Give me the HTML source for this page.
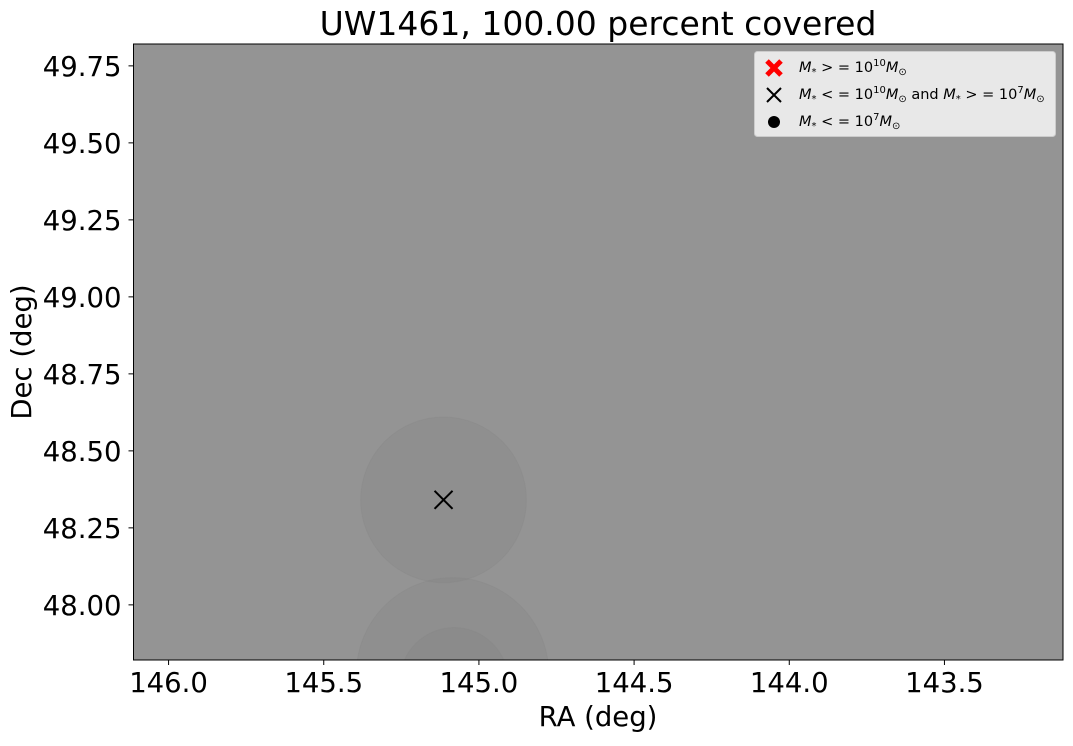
<!DOCTYPE html>
<html><head><meta charset="utf-8"><style>
body{margin:0;background:#fff;width:1073px;height:741px;overflow:hidden}
svg text{font-family:"DejaVu Sans","Liberation Sans",sans-serif}
</style></head><body>
<svg id="chart" width="1073" height="741" xmlns="http://www.w3.org/2000/svg"></svg>
<script>
const xTicks=[146.0,145.5,145.0,144.5,144.0,143.5];
const yTicks=[48.00,48.25,48.50,48.75,49.00,49.25,49.50,49.75];
const circleRA=[145.114,145.085,145.08];
const circleDec=[48.341,47.776,47.75];
const circleR=[0.267,0.31,0.175];
const crossRA=[145.114];
const crossDec=[48.341];
const L=133.5,R=1063,T=44,B=660;
const xMin=146.113,xMax=143.118,yMin=47.821,yMax=49.821;
const X=v=>L+(xMin-v)/(xMin-xMax)*(R-L);
const Y=v=>B-(v-yMin)/(yMax-yMin)*(B-T);
const pxPerDeg=(R-L)/(xMin-xMax);
const svg=document.getElementById('chart');
const NS='http://www.w3.org/2000/svg';
function mk(tag,attrs,parent){const e=document.createElementNS(NS,tag);for(const k in attrs)e.setAttribute(k,attrs[k]);(parent||svg).appendChild(e);return e;}
const defs=mk('defs',{});
const cp=mk('clipPath',{id:'clip'},defs);
mk('rect',{x:L,y:T,width:R-L,height:B-T},cp);
const bg=mk('rect',{x:L,y:T,width:R-L,height:B-T,fill:'#949494'});


const g=mk('g',{'clip-path':'url(#clip)'});
circleRA.forEach((ra,i)=>{
  const c=mk('circle',{cx:X(ra),cy:Y(circleDec[i]),r:circleR[i]*pxPerDeg,fill:'#808080','fill-opacity':0.25,stroke:'#808080','stroke-opacity':0.2},g);
  
  
});
crossRA.forEach((ra,i)=>{
  const cx=X(ra),cy=Y(crossDec[i]),s=9;
  const p=mk('path',{d:`M${cx-s} ${cy-s}L${cx+s} ${cy+s}M${cx-s} ${cy+s}L${cx+s} ${cy-s}`,stroke:'#000','stroke-width':2},g);
  
  
});
mk('rect',{x:L,y:T,width:R-L,height:B-T,fill:'none',stroke:'#000','stroke-width':1});
xTicks.forEach(v=>{
  const x=X(v);
  mk('line',{x1:x,x2:x,y1:B,y2:B+5,stroke:'#000'});
  const t=mk('text',{x:x,y:B+32,'font-size':27.5,'text-anchor':'middle'});t.textContent=v.toFixed(1);
  
  
});
yTicks.forEach(v=>{
  const y=Y(v);
  mk('line',{x1:L-5,x2:L,y1:y,y2:y,stroke:'#000'});
  const t=mk('text',{x:L-12,y:y+10,'font-size':27.5,'text-anchor':'end'});t.textContent=v.toFixed(2);
  
  
});
</script>
<svg style="position:absolute;left:0;top:0" width="1073" height="741" xmlns="http://www.w3.org/2000/svg">
<text x="598" y="35" font-size="33" text-anchor="middle" font-family="DejaVu Sans,Liberation Sans,sans-serif">UW1461, 100.00 percent covered</text>
<text x="598" y="726" font-size="27.5" text-anchor="middle" font-family="DejaVu Sans,Liberation Sans,sans-serif">RA (deg)</text>
<text transform="translate(31,352) rotate(-90)" font-size="27.5" text-anchor="middle" font-family="DejaVu Sans,Liberation Sans,sans-serif">Dec (deg)</text>
<g font-family="DejaVu Sans,Liberation Sans,sans-serif" font-size="14.5">
<rect x="754.5" y="51.5" width="301" height="85" rx="3" fill="#e8e8e8" stroke="#ccc"/>
<path d="M767 61L781 75M767 75L781 61" stroke="#f00" stroke-width="5"/>
<path d="M767 88L781 102M767 102L781 88" stroke="#000" stroke-width="2"/>
<circle cx="774" cy="122" r="6" fill="#000"/>
<text x="799" y="72"><tspan font-style="italic">M</tspan><tspan font-size="10" dy="3">*</tspan><tspan dy="-3"> &gt; = 10</tspan><tspan font-size="10" dy="-6">10</tspan><tspan dy="6" font-style="italic">M</tspan><tspan font-size="10" dy="3">⊙</tspan></text>
<text x="799" y="99"><tspan font-style="italic">M</tspan><tspan font-size="10" dy="3">*</tspan><tspan dy="-3"> &lt; = 10</tspan><tspan font-size="10" dy="-6">10</tspan><tspan dy="6" font-style="italic">M</tspan><tspan font-size="10" dy="3">⊙</tspan><tspan dy="-3"> and </tspan><tspan font-style="italic">M</tspan><tspan font-size="10" dy="3">*</tspan><tspan dy="-3"> &gt; = 10</tspan><tspan font-size="10" dy="-6">7</tspan><tspan dy="6" font-style="italic">M</tspan><tspan font-size="10" dy="3">⊙</tspan></text>
<text x="799" y="126"><tspan font-style="italic">M</tspan><tspan font-size="10" dy="3">*</tspan><tspan dy="-3"> &lt; = 10</tspan><tspan font-size="10" dy="-6">7</tspan><tspan dy="6" font-style="italic">M</tspan><tspan font-size="10" dy="3">⊙</tspan></text>
</g>
</svg>
</body></html>
